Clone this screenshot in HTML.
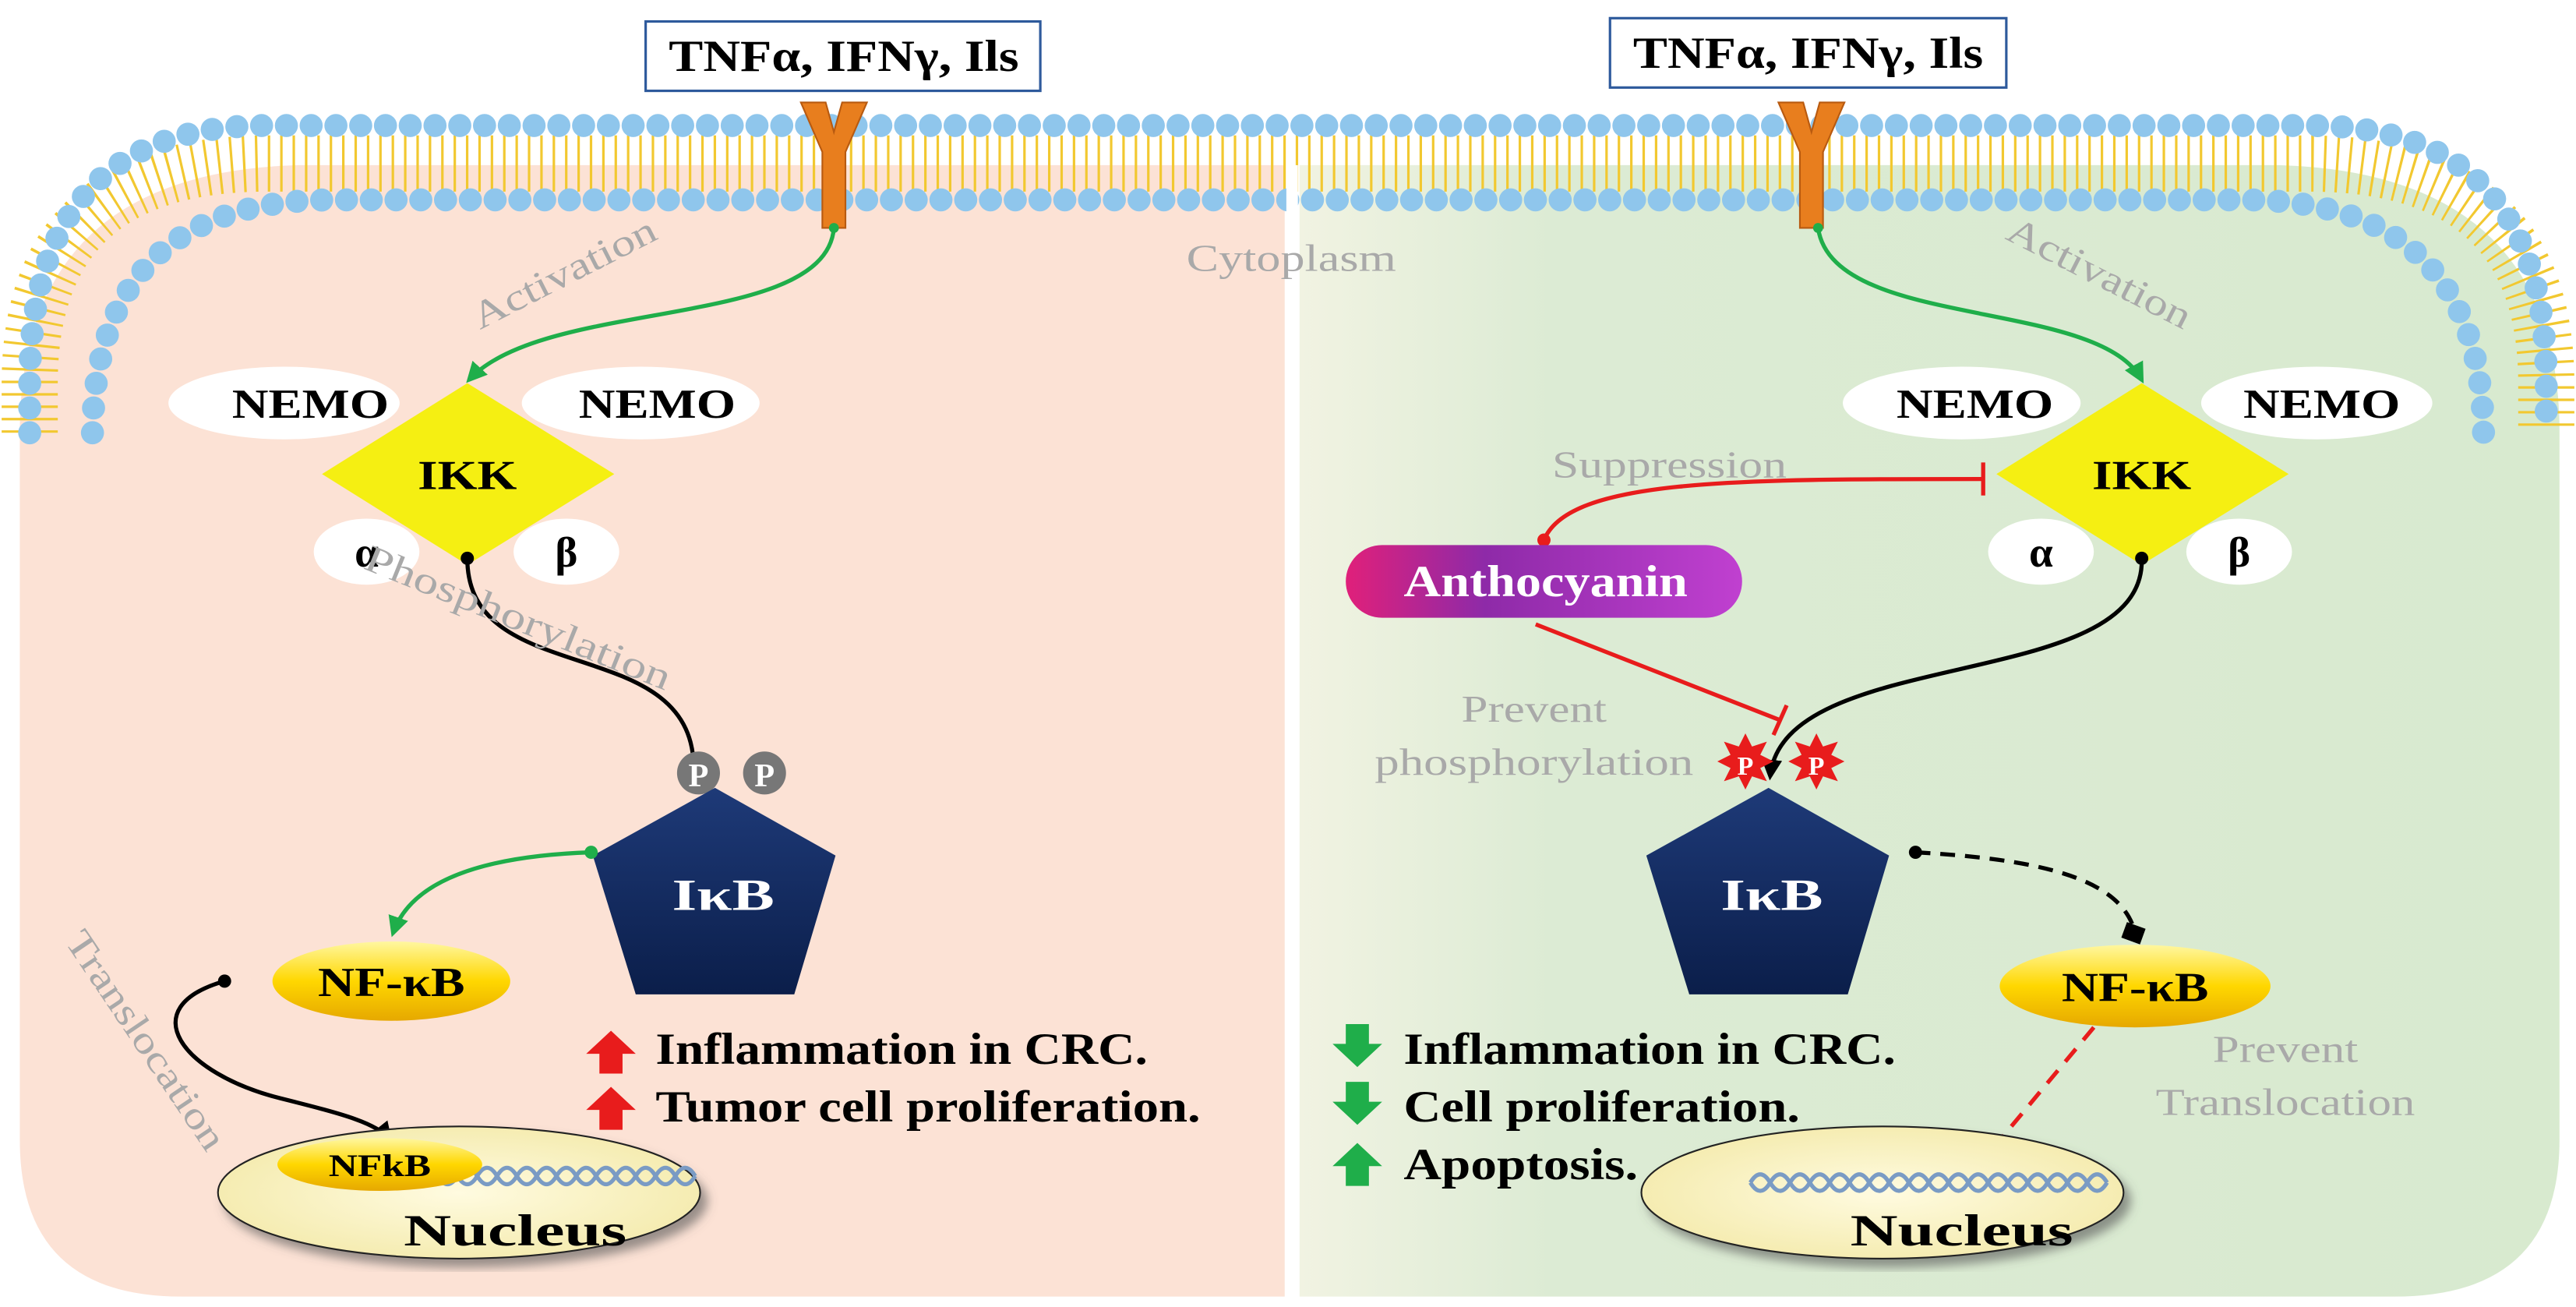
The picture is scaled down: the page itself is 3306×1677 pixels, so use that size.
<!DOCTYPE html>
<html><head><meta charset="utf-8"><style>
html,body{margin:0;padding:0;background:#fff;}
svg{display:block;}
text{font-family:"Liberation Serif",serif;}
.b{font-weight:bold;fill:#000;}
.g{fill:#a9a9a9;font-size:23px;}
</style></head><body>
<svg width="3306" height="1677" viewBox="0 0 1560 791.3" preserveAspectRatio="none" xmlns="http://www.w3.org/2000/svg">
<defs>
<linearGradient id="nf" x1="0" y1="0" x2="0" y2="1"><stop offset="0" stop-color="#fff7a0"/><stop offset="0.5" stop-color="#ffd700"/><stop offset="1" stop-color="#e6a800"/></linearGradient>
<linearGradient id="ant" x1="0" y1="0" x2="1" y2="0"><stop offset="0" stop-color="#e0207a"/><stop offset="0.35" stop-color="#8e2aa8"/><stop offset="1" stop-color="#c040d0"/></linearGradient>
<linearGradient id="grn" x1="0" y1="0" x2="1" y2="0"><stop offset="0" stop-color="#f1f3e2"/><stop offset="0.2" stop-color="#dcebd4"/><stop offset="1" stop-color="#d8eacf"/></linearGradient>
<radialGradient id="nuc" cx="0.5" cy="0.5" r="0.6"><stop offset="0" stop-color="#fffbe0"/><stop offset="1" stop-color="#f3e9a8"/></radialGradient>
<linearGradient id="pent" x1="0" y1="0" x2="0" y2="1"><stop offset="0" stop-color="#1e3a78"/><stop offset="1" stop-color="#0b1e4a"/></linearGradient>
<marker id="ag" viewBox="0 0 10 10" refX="8" refY="5" markerWidth="5" markerHeight="5" orient="auto"><path d="M0 0L10 5L0 10z" fill="#1fae4a"/></marker>
<marker id="ab" viewBox="0 0 10 10" refX="8" refY="5" markerWidth="5" markerHeight="5" orient="auto"><path d="M0 0L10 5L0 10z" fill="#000"/></marker>
<filter id="sh"><feDropShadow dx="4" dy="5" stdDeviation="3" flood-color="#555" flood-opacity="0.6"/></filter>
</defs>
<!-- panels -->
<path d="M778 100 L180 100 Q12 105 12 262 L12 690 Q12 785 110 785 L778 785 Z" fill="#fce2d5"/>
<path d="M787 100 L1380 100 Q1550 105 1550 262 L1550 690 Q1550 785 1450 785 L787 785 Z" fill="url(#grn)"/>
<!-- lipid tails -->
<path d="M18 262 L18 232 Q18 100 160 99 L1400 99 Q1542 100 1542 232 L1542 262" fill="none" stroke="#f2c830" stroke-width="34" stroke-dasharray="1.5 6"/>
<!-- membrane heads -->
<path d="M18 262 L18 232 Q18 77 160 76 L1400 76 Q1542 77 1542 232 L1542 262" fill="none" stroke="#8fc6ec" stroke-width="14" stroke-linecap="round" stroke-dasharray="0 15"/>
<path d="M56 262 Q58 122 200 121 L1360 121 Q1502 122 1504 262" fill="none" stroke="#8fc6ec" stroke-width="14" stroke-linecap="round" stroke-dasharray="0 15"/>
<!-- receptors -->
<g fill="#e87e1e" stroke="#b85a10" stroke-width="1">
<path d="M485 62 L500 62 L505 80 L510 62 L525 62 L512 92 L512 138 L498 138 L498 92 Z"/>
<path d="M1077 62 L1092 62 L1097 80 L1102 62 L1117 62 L1104 92 L1104 138 L1090 138 L1090 92 Z"/>
</g>
<!-- ligand boxes -->
<rect x="391" y="13" width="239" height="42" fill="#fff" stroke="#2e5a9c" stroke-width="1.5"/>
<text x="511" y="43" class="b" font-size="27" text-anchor="middle" textLength="212" lengthAdjust="spacingAndGlyphs">TNFα, IFNγ, Ils</text>
<rect x="975" y="11" width="240" height="42" fill="#fff" stroke="#2e5a9c" stroke-width="1.5"/>
<text x="1095" y="41" class="b" font-size="27" text-anchor="middle" textLength="212" lengthAdjust="spacingAndGlyphs">TNFα, IFNγ, Ils</text>
<rect x="779" y="100" width="7" height="690" fill="#fff"/>
<text x="782" y="164" class="g" text-anchor="middle" textLength="127" lengthAdjust="spacingAndGlyphs">Cytoplasm</text>

<!-- LEFT -->
<path d="M505 138 C500 200 330 180 284 230" fill="none" stroke="#1fae4a" stroke-width="2.5" marker-end="url(#ag)"/>
<circle cx="505" cy="138" r="3" fill="#1fae4a"/>
<text class="g" transform="translate(345,172) rotate(-27)" text-anchor="middle" textLength="122" lengthAdjust="spacingAndGlyphs">Activation</text>
<ellipse cx="172" cy="244" rx="70" ry="22" fill="#fff"/><text x="188" y="253" class="b" font-size="25" text-anchor="middle" textLength="95" lengthAdjust="spacingAndGlyphs">NEMO</text>
<ellipse cx="388" cy="244" rx="72" ry="22" fill="#fff"/><text x="398" y="253" class="b" font-size="25" text-anchor="middle" textLength="95" lengthAdjust="spacingAndGlyphs">NEMO</text>
<polygon points="283,232 372,287 283,342 195,287" fill="#f5ef12"/>
<text x="283" y="296" class="b" font-size="25" text-anchor="middle" textLength="60" lengthAdjust="spacingAndGlyphs">IKK</text>
<ellipse cx="222" cy="334" rx="32" ry="20" fill="#fff"/><text x="222" y="343" class="b" font-size="26" text-anchor="middle">α</text>
<ellipse cx="343" cy="334" rx="32" ry="20" fill="#fff"/><text x="343" y="343" class="b" font-size="26" text-anchor="middle">β</text>
<path d="M283 338 C283 420 425 380 420 470" fill="none" stroke="#000" stroke-width="2.5" marker-end="url(#ab)"/>
<circle cx="283" cy="338" r="4" fill="#000"/>
<text class="g" transform="translate(311,381) rotate(22)" text-anchor="middle" textLength="198" lengthAdjust="spacingAndGlyphs">Phosphorylation</text>
<circle cx="423" cy="468" r="13" fill="#777"/><text x="423" y="476" font-size="20" fill="#fff" font-weight="bold" text-anchor="middle">P</text>
<circle cx="463" cy="468" r="13" fill="#777"/><text x="463" y="476" font-size="20" fill="#fff" font-weight="bold" text-anchor="middle">P</text>
<polygon points="433,477 506,518 481,602 385,602 359,518" fill="url(#pent)"/>
<text x="438" y="551" font-size="27" fill="#fff" font-weight="bold" text-anchor="middle" textLength="62" lengthAdjust="spacingAndGlyphs">IκB</text>
<path d="M358 516 C300 518 250 530 238 565" fill="none" stroke="#1fae4a" stroke-width="2.5" marker-end="url(#ag)"/>
<circle cx="358" cy="516" r="4" fill="#1fae4a"/>
<ellipse cx="237" cy="594" rx="72" ry="24" fill="url(#nf)"/>
<text x="237" y="603" class="b" font-size="25" text-anchor="middle" textLength="89" lengthAdjust="spacingAndGlyphs">NF-κB</text>
<text class="g" transform="translate(82,634) rotate(56)" text-anchor="middle" textLength="155" lengthAdjust="spacingAndGlyphs">Translocation</text>
<path d="M136 594 C80 610 110 650 170 665 C210 675 228 680 236 690" fill="none" stroke="#000" stroke-width="2.5" marker-end="url(#ab)"/>
<circle cx="136" cy="594" r="4" fill="#000"/>
<ellipse cx="278" cy="722" rx="146" ry="40" fill="url(#nuc)" stroke="#222" stroke-width="1" filter="url(#sh)"/>
<path d="M205 712 q6 -10 12 0 t12 0 t12 0 t12 0 t12 0 t12 0 t12 0 t12 0 t12 0 t12 0 t12 0 t12 0 t12 0 t12 0 t12 0 t12 0 t12 0 t12 0" fill="none" stroke="#7a9bc4" stroke-width="2.5"/>
<path d="M205 712 q6 10 12 0 t12 0 t12 0 t12 0 t12 0 t12 0 t12 0 t12 0 t12 0 t12 0 t12 0 t12 0 t12 0 t12 0 t12 0 t12 0 t12 0 t12 0" fill="none" stroke="#7a9bc4" stroke-width="2.5"/>
<ellipse cx="230" cy="705" rx="62" ry="16" fill="url(#nf)"/>
<text x="230" y="712" class="b" font-size="19" text-anchor="middle" textLength="62" lengthAdjust="spacingAndGlyphs">NFkB</text>
<text x="312" y="754" class="b" font-size="27" text-anchor="middle" textLength="135" lengthAdjust="spacingAndGlyphs">Nucleus</text>
<path d="M370 624 l-15 14 h8 v12 h14 v-12 h8 z" fill="#e81c1c"/>
<path d="M370 658 l-15 14 h8 v12 h14 v-12 h8 z" fill="#e81c1c"/>
<text x="397" y="644" class="b" font-size="27" textLength="298" lengthAdjust="spacingAndGlyphs">Inflammation in CRC.</text>
<text x="397" y="679" class="b" font-size="27" textLength="330" lengthAdjust="spacingAndGlyphs">Tumor cell proliferation.</text>

<!-- RIGHT -->
<path d="M1101 138 C1110 200 1270 180 1297 230" fill="none" stroke="#1fae4a" stroke-width="2.5" marker-end="url(#ag)"/>
<circle cx="1101" cy="138" r="3" fill="#1fae4a"/>
<text class="g" transform="translate(1268,172) rotate(27)" text-anchor="middle" textLength="122" lengthAdjust="spacingAndGlyphs">Activation</text>
<ellipse cx="1188" cy="244" rx="72" ry="22" fill="#fff"/><text x="1196" y="253" class="b" font-size="25" text-anchor="middle" textLength="95" lengthAdjust="spacingAndGlyphs">NEMO</text>
<ellipse cx="1403" cy="244" rx="70" ry="22" fill="#fff"/><text x="1406" y="253" class="b" font-size="25" text-anchor="middle" textLength="95" lengthAdjust="spacingAndGlyphs">NEMO</text>
<polygon points="1297,232 1386,287 1297,342 1209,287" fill="#f5ef12"/>
<text x="1297" y="296" class="b" font-size="25" text-anchor="middle" textLength="60" lengthAdjust="spacingAndGlyphs">IKK</text>
<ellipse cx="1236" cy="334" rx="32" ry="20" fill="#fff"/><text x="1236" y="343" class="b" font-size="26" text-anchor="middle">α</text>
<ellipse cx="1356" cy="334" rx="32" ry="20" fill="#fff"/><text x="1356" y="343" class="b" font-size="26" text-anchor="middle">β</text>
<text x="1011" y="289" class="g" text-anchor="middle" textLength="142" lengthAdjust="spacingAndGlyphs">Suppression</text>
<path d="M935 327 C950 290 1050 290 1200 290" fill="none" stroke="#e81c1c" stroke-width="2.5"/>
<line x1="1201" y1="280" x2="1201" y2="300" stroke="#e81c1c" stroke-width="2.5"/>
<circle cx="935" cy="327" r="4" fill="#e81c1c"/>
<rect x="815" y="330" width="240" height="44" rx="22" fill="url(#ant)"/>
<text x="936" y="361" font-size="27" fill="#fff" font-weight="bold" text-anchor="middle" textLength="172" lengthAdjust="spacingAndGlyphs">Anthocyanin</text>
<line x1="930" y1="378" x2="1078" y2="436" stroke="#e81c1c" stroke-width="2.5"/>
<line x1="1074" y1="445" x2="1082" y2="427" stroke="#e81c1c" stroke-width="2.5"/>
<text x="929" y="437" class="g" text-anchor="middle" textLength="88" lengthAdjust="spacingAndGlyphs">Prevent</text>
<text x="929" y="469" class="g" text-anchor="middle" textLength="193" lengthAdjust="spacingAndGlyphs">phosphorylation</text>
<path d="M1297 338 C1300 420 1080 390 1072 470" fill="none" stroke="#000" stroke-width="2.5" marker-end="url(#ab)"/>
<circle cx="1297" cy="338" r="4" fill="#000"/>
<polygon points="1057,444 1061,452 1070,449 1066,457 1074,461 1066,465 1070,473 1061,470 1057,478 1053,470 1044,473 1048,465 1040,461 1048,457 1044,449 1053,452" fill="#e81c1c"/>
<text x="1057" y="469" font-size="16" fill="#fff" font-weight="bold" text-anchor="middle">P</text>
<polygon points="1100,444 1104,452 1113,449 1109,457 1117,461 1109,465 1113,473 1104,470 1100,478 1096,470 1087,473 1091,465 1083,461 1091,457 1087,449 1096,452" fill="#e81c1c"/>
<text x="1100" y="469" font-size="16" fill="#fff" font-weight="bold" text-anchor="middle">P</text>
<polygon points="1071,477 1144,518 1119,602 1023,602 997,518" fill="url(#pent)"/>
<text x="1073" y="551" font-size="27" fill="#fff" font-weight="bold" text-anchor="middle" textLength="62" lengthAdjust="spacingAndGlyphs">IκB</text>
<path d="M1160 516 C1230 520 1285 530 1293 565" fill="none" stroke="#000" stroke-width="2.5" stroke-dasharray="9 6"/>
<circle cx="1160" cy="516" r="4" fill="#000"/>
<rect x="1286" y="560" width="12" height="10" fill="#000" transform="rotate(20 1292 565)"/>
<ellipse cx="1293" cy="597" rx="82" ry="25" fill="url(#nf)"/>
<text x="1293" y="606" class="b" font-size="25" text-anchor="middle" textLength="89" lengthAdjust="spacingAndGlyphs">NF-κB</text>
<text x="1384" y="643" class="g" text-anchor="middle" textLength="88" lengthAdjust="spacingAndGlyphs">Prevent</text>
<text x="1384" y="675" class="g" text-anchor="middle" textLength="157" lengthAdjust="spacingAndGlyphs">Translocation</text>
<line x1="1268" y1="622" x2="1208" y2="694" stroke="#e81c1c" stroke-width="2.5" stroke-dasharray="10 7"/>
<ellipse cx="1140" cy="722" rx="146" ry="40" fill="url(#nuc)" stroke="#222" stroke-width="1" filter="url(#sh)"/>
<path d="M1060 716 q6 -10 12 0 t12 0 t12 0 t12 0 t12 0 t12 0 t12 0 t12 0 t12 0 t12 0 t12 0 t12 0 t12 0 t12 0 t12 0 t12 0 t12 0 t12 0" fill="none" stroke="#7a9bc4" stroke-width="2.5"/>
<path d="M1060 716 q6 10 12 0 t12 0 t12 0 t12 0 t12 0 t12 0 t12 0 t12 0 t12 0 t12 0 t12 0 t12 0 t12 0 t12 0 t12 0 t12 0 t12 0 t12 0" fill="none" stroke="#7a9bc4" stroke-width="2.5"/>
<text x="1188" y="754" class="b" font-size="27" text-anchor="middle" textLength="135" lengthAdjust="spacingAndGlyphs">Nucleus</text>
<path d="M822 646 l-15 -14 h8 v-12 h14 v12 h8 z" fill="#1fae4a"/>
<path d="M822 681 l-15 -14 h8 v-12 h14 v12 h8 z" fill="#1fae4a"/>
<path d="M822 692 l-15 14 h8 v12 h14 v-12 h8 z" fill="#1fae4a"/>
<text x="850" y="644" class="b" font-size="27" textLength="298" lengthAdjust="spacingAndGlyphs">Inflammation in CRC.</text>
<text x="850" y="679" class="b" font-size="27" textLength="240" lengthAdjust="spacingAndGlyphs">Cell proliferation.</text>
<text x="850" y="714" class="b" font-size="27" textLength="142" lengthAdjust="spacingAndGlyphs">Apoptosis.</text>
</svg>
</body></html>
